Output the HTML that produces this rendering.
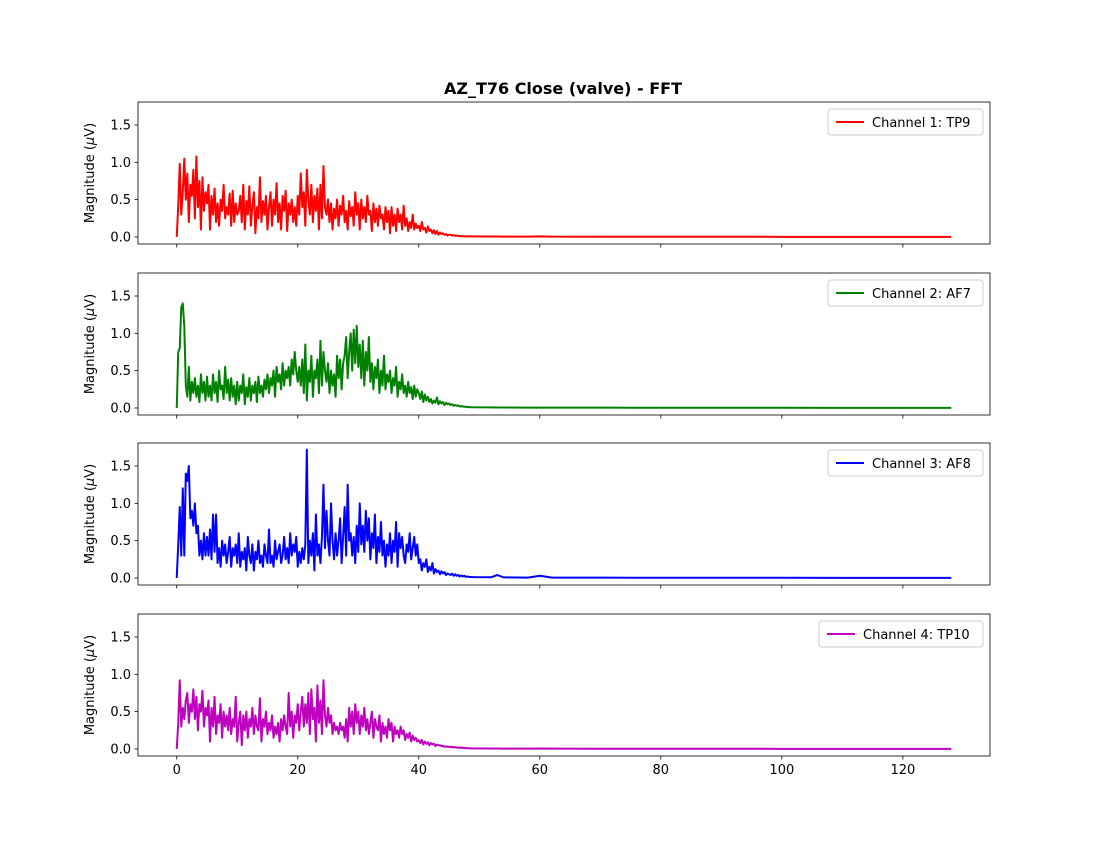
<!DOCTYPE html>
<html><head><meta charset="utf-8"><style>
body{margin:0;background:#fff;font-family:"Liberation Sans","DejaVu Sans",sans-serif}
svg text{font-family:"DejaVu Sans","Liberation Sans",sans-serif}
</style></head><body>
<svg id="fig" width="1100" height="850" xmlns="http://www.w3.org/2000/svg">
<rect width="1100" height="850" fill="#fff"/>
<text x="563" y="94" text-anchor="middle" font-size="16" font-weight="bold">AZ_T76 Close (valve) - FFT</text>
</svg>
<script>
const step = 0.25;
const tailFreq = [49,52,53,54,58,60,62,70,80,90,100,110,120,128];
const ch1 = [0,0.42,0.98,0.3,0.6,1.05,0.5,0.85,0.2,0.7,0.55,0.9,0.25,1.08,0.4,0.75,0.1,0.8,0.35,0.6,0.45,
0.7,0.1,0.55,0.3,0.65,0.2,0.45,0.15,0.5,0.35,0.7,0.25,0.4,0.3,0.58,0.15,0.62,0.2,0.45,0.3,
0.35,0.55,0.2,0.7,0.1,0.48,0.3,0.68,0.15,0.42,0.6,0.05,0.4,0.25,0.8,0.2,0.48,0.3,0.55,0.1,
0.4,0.6,0.15,0.5,0.3,0.72,0.2,0.45,0.1,0.55,0.35,0.62,0.08,0.45,0.3,0.5,0.2,0.4,0.15,0.55,
0.3,0.85,0.4,0.6,0.15,0.9,0.5,0.3,0.7,0.2,0.55,0.35,0.65,0.1,0.7,0.25,0.95,0.4,0.3,0.5,
0.2,0.45,0.1,0.38,0.25,0.5,0.15,0.42,0.3,0.55,0.2,0.35,0.1,0.48,0.28,0.4,0.15,0.6,0.3,0.45,
0.1,0.5,0.25,0.4,0.2,0.55,0.3,0.35,0.08,0.45,0.2,0.38,0.15,0.42,0.25,0.3,0.1,0.4,0.2,0.35,
0.05,0.4,0.15,0.3,0.08,0.38,0.2,0.3,0.1,0.42,0.15,0.25,0.08,0.2,0.12,0.3,0.1,0.18,0.12,0.15,
0.08,0.2,0.1,0.12,0.06,0.14,0.08,0.1,0.05,0.09,0.04,0.08,0.03,0.06,0.04,0.05,0.03,0.04,0.02,0.03,
0.03,0.02,0.025,0.015,0.02,0.012,0.015,0.01,0.012,0.01,0.008,0.01,0.008];
const ch2 = [0,0.75,0.8,1.35,1.4,1.1,0.3,0.15,0.55,0.1,0.35,0.2,0.4,0.15,0.3,0.08,0.45,0.2,0.35,0.1,0.42,
0.15,0.3,0.1,0.45,0.2,0.35,0.08,0.5,0.25,0.3,0.12,0.55,0.2,0.38,0.1,0.4,0.15,0.3,0.05,0.35,
0.1,0.3,0.2,0.45,0.05,0.28,0.15,0.4,0.1,0.3,0.2,0.35,0.08,0.42,0.2,0.3,0.15,0.38,0.25,0.45,
0.2,0.4,0.3,0.5,0.15,0.55,0.35,0.45,0.25,0.6,0.3,0.5,0.4,0.55,0.3,0.65,0.45,0.75,0.5,0.35,
0.55,0.3,0.65,0.2,0.85,0.1,0.5,0.35,0.7,0.15,0.5,0.4,0.65,0.2,0.9,0.3,0.75,0.5,0.35,0.6,
0.2,0.5,0.3,0.45,0.15,0.7,0.4,0.65,0.25,0.6,0.7,0.95,0.4,0.75,1.0,0.5,1.05,0.6,1.1,0.55,
0.85,0.4,0.9,0.3,0.75,0.5,0.95,0.35,0.6,0.25,0.55,0.4,0.65,0.2,0.5,0.3,0.7,0.25,0.45,0.35,
0.5,0.2,0.4,0.3,0.55,0.15,0.35,0.25,0.45,0.2,0.3,0.15,0.35,0.2,0.28,0.12,0.3,0.15,0.25,0.2,
0.12,0.22,0.08,0.18,0.1,0.15,0.08,0.12,0.06,0.1,0.07,0.14,0.05,0.09,0.06,0.08,0.04,0.07,0.05,0.06,
0.04,0.05,0.03,0.04,0.03,0.035,0.02,0.025,0.02,0.018,0.015,0.015,0.012];
const ch3 = [0,0.45,0.95,0.3,1.2,0.3,1.4,1.3,1.5,0.8,0.9,0.7,1.0,0.6,0.7,0.3,0.5,0.25,0.6,0.3,0.55,
0.3,0.65,0.25,0.85,0.35,0.85,0.2,0.4,0.15,0.5,0.3,0.45,0.2,0.35,0.55,0.15,0.4,0.3,0.45,0.2,
0.6,0.15,0.35,0.25,0.4,0.1,0.55,0.3,0.2,0.45,0.1,0.35,0.25,0.5,0.2,0.3,0.15,0.45,0.3,0.2,
0.65,0.2,0.3,0.15,0.5,0.25,0.35,0.45,0.2,0.3,0.55,0.25,0.4,0.2,0.6,0.3,0.45,0.35,0.55,0.15,
0.35,0.2,0.4,0.25,0.45,1.72,0.2,0.5,0.3,0.6,0.1,0.85,0.3,0.45,0.2,0.55,1.25,0.4,0.9,0.5,
0.3,1.0,0.5,0.25,0.6,0.3,0.5,0.8,0.2,0.55,0.95,0.3,1.25,0.5,0.6,0.3,0.55,0.2,0.7,0.35,
1.0,0.45,0.7,0.35,0.9,0.5,0.8,0.25,0.6,0.4,0.85,0.2,0.55,0.35,0.75,0.3,0.5,0.15,0.45,0.3,
0.6,0.2,0.5,0.35,0.75,0.15,0.6,0.4,0.55,0.3,0.2,0.45,0.35,0.6,0.25,0.4,0.55,0.3,0.45,0.2,
0.25,0.1,0.2,0.15,0.25,0.08,0.15,0.1,0.2,0.06,0.12,0.08,0.1,0.05,0.09,0.06,0.08,0.04,0.06,0.05,
0.04,0.06,0.03,0.05,0.03,0.04,0.02,0.035,0.02,0.03,0.015,0.02,0.015];
const ch4 = [0,0.35,0.92,0.3,0.55,0.4,0.65,0.75,0.35,0.6,0.5,0.8,0.4,0.7,0.25,0.6,0.5,0.78,0.3,0.55,0.45,
0.65,0.1,0.55,0.3,0.7,0.2,0.45,0.35,0.6,0.15,0.5,0.3,0.45,0.25,0.55,0.2,0.4,0.3,0.7,0.1,
0.35,0.5,0.05,0.45,0.25,0.5,0.15,0.4,0.3,0.55,0.2,0.45,0.3,0.25,0.68,0.1,0.4,0.3,0.5,0.2,
0.35,0.25,0.45,0.15,0.3,0.2,0.35,0.1,0.4,0.25,0.45,0.3,0.2,0.75,0.3,0.5,0.15,0.45,0.35,0.6,
0.25,0.5,0.7,0.3,0.6,0.35,0.75,0.2,0.8,0.4,0.55,0.1,0.85,0.35,0.65,0.2,0.92,0.45,0.3,0.55,
0.35,0.45,0.2,0.35,0.25,0.3,0.2,0.35,0.25,0.3,0.15,0.4,0.1,0.55,0.3,0.5,0.2,0.6,0.35,0.5,
0.2,0.45,0.3,0.55,0.25,0.4,0.2,0.35,0.5,0.15,0.4,0.3,0.25,0.45,0.1,0.35,0.2,0.3,0.15,0.4,
0.25,0.35,0.1,0.3,0.2,0.25,0.15,0.3,0.2,0.25,0.12,0.2,0.15,0.22,0.1,0.18,0.12,0.15,0.1,0.12,
0.08,0.12,0.06,0.1,0.07,0.09,0.05,0.08,0.06,0.07,0.04,0.06,0.05,0.05,0.04,0.04,0.03,0.035,0.03,0.03,
0.025,0.03,0.02,0.025,0.02,0.02,0.015,0.02,0.015,0.015,0.012,0.012,0.01];
const tail1 = [0.008,0.006,0.006,0.005,0.005,0.008,0.004,0.003,0.003,0.003,0.002,0.002,0.002,0.002];
const tail2 = [0.01,0.008,0.007,0.006,0.005,0.005,0.004,0.004,0.003,0.003,0.003,0.002,0.002,0.002];
const tail3 = [0.012,0.01,0.04,0.008,0.005,0.03,0.005,0.004,0.003,0.003,0.003,0.002,0.002,0.002];
const tail4 = [0.008,0.006,0.006,0.005,0.005,0.007,0.004,0.003,0.003,0.003,0.002,0.002,0.002,0.002];
const channelNames = ["Channel 1: TP9","Channel 2: AF7","Channel 3: AF8","Channel 4: TP10"];
const xTicks = [0,20,40,60,80,100,120];
const yTicks = [0.0,0.5,1.0,1.5];

const NS = "http://www.w3.org/2000/svg";
const svg = document.getElementById("fig");
const colors = ["#ff0000","#008000","#0000ff","#bf00bf"];
const series = [[ch1,tail1],[ch2,tail2],[ch3,tail3],[ch4,tail4]];
const L = 138, R = 990, H = 142, tops = [102,273,443,614];
const xMin = -6.4, xMax = 134.4, yMin = -0.094, yMax = 1.808;
const xs = v => L + (v - xMin) / (xMax - xMin) * (R - L);
function mk(tag, attrs, parent){const e=document.createElementNS(NS,tag);for(const k in attrs)e.setAttribute(k,attrs[k]);(parent||svg).appendChild(e);return e;}

series.forEach((s, i) => {
  const top = tops[i];
  const ys = v => top + H - (v - yMin) / (yMax - yMin) * H;
  const g = mk("g", {});
  
  
  const pts = [];
  s[0].forEach((v, k) => pts.push(xs(k*step).toFixed(2) + "," + ys(v).toFixed(2)));
  s[1].forEach((v, k) => pts.push(xs(tailFreq[k]).toFixed(2) + "," + ys(v).toFixed(2)));
  const line = mk("polyline", {points: pts.join(" "), fill:"none", stroke:colors[i], "stroke-width":2, "stroke-linejoin":"round"}, g);
  
  
  const frame = mk("rect", {x:L, y:top, width:R-L, height:H, fill:"none", stroke:"#000", "stroke-width":0.8}, g);
  
  
  yTicks.forEach(t => {
    const y = ys(t);
    mk("line", {x1:L-3.5, x2:L, y1:y, y2:y, stroke:"#000", "stroke-width":0.8}, g);
    const tl = mk("text", {x:L-7, y:y+4.5, "text-anchor":"end", "font-size":13}, g);
    tl.textContent = t.toFixed(1);
    
    
  });
  xTicks.forEach(t => {
    const x = xs(t);
    mk("line", {x1:x, x2:x, y1:top+H, y2:top+H+3.5, stroke:"#000", "stroke-width":0.8}, g);
    if (i === 3) {
      const tl = mk("text", {x:x, y:top+H+18, "text-anchor":"middle", "font-size":13}, g);
      tl.textContent = t;
      
      
    }
  });
  const yl = mk("text", {x:0, y:0, "text-anchor":"middle", "font-size":13, transform:"translate(94,"+(top+H/2)+") rotate(-90)"}, g);
  yl.innerHTML = 'Magnitude (<tspan font-style="italic">μ</tspan>V)';
  
  
  const lw = i === 3 ? 164 : 155;
  const lg = mk("g", {}, g);
  
  
  mk("rect", {x:983-lw, y:top+7, width:lw, height:26, rx:3, fill:"#fff", "fill-opacity":0.8, stroke:"#ccc"}, lg);
  mk("line", {x1:983-lw+8, x2:983-lw+36, y1:top+20, y2:top+20, stroke:colors[i], "stroke-width":2}, lg);
  const lt = mk("text", {x:983-lw+44, y:top+25, "font-size":13}, lg);
  lt.textContent = channelNames[i];
  
  
});
</script>
</body></html>
